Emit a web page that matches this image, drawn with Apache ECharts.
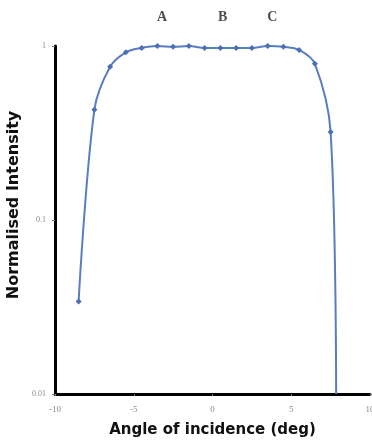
<!DOCTYPE html>
<html><head><meta charset="utf-8">
<script src="https://cdn.jsdelivr.net/npm/echarts@6/dist/echarts.min.js"></script>
<style>html,body{margin:0;padding:0;background:#fff}#c{width:372px;height:440px}</style>
</head><body><div id="c"></div>
<script>
const angles = [-8.5,-7.5,-6.5,-5.5,-4.5,-3.5,-2.5,-1.5,-0.5,0.5,1.5,2.5,3.5,4.5,5.5,6.5,7.5,7.85];
const intensity = [0.034,0.43,0.76,0.92,0.975,1.0,0.99,1.0,0.975,0.975,0.975,0.975,1.0,0.99,0.95,0.79,0.32,0.01];
const xTicks = [-10,-5,0,5,10];
const yTicks = [0.01,0.1,1];
const markLabels = [{t:'A',x:-3.2},{t:'B',x:0.65},{t:'C',x:3.8}];

const chart = echarts.init(document.getElementById('c'));
const data = angles.map((a,i)=>{
  const d = {value:[a,intensity[i]]};
  if (i===angles.length-1) d.symbol='none';
  return d;
});
chart.setOption({
  animation:false,
  grid:{left:55,right:2,top:46,bottom:46,outerBoundsMode:'none',containLabel:false},
  xAxis:{type:'value',min:-10,max:10,interval:5,
    axisLine:{onZero:false,lineStyle:{color:'#000',width:3}},
    axisTick:{show:true,length:2,lineStyle:{color:'#777'}},
    splitLine:{show:false},
    axisLabel:{color:'#888',fontSize:9,margin:11,fontFamily:'Liberation Serif',
      formatter:v=>xTicks.includes(v)?String(v):''},
    name:'Angle of incidence (deg)',nameLocation:'middle',nameGap:29,
    nameTextStyle:{color:'#111',fontSize:15,fontWeight:'bold',fontFamily:'DejaVu Sans'}
  },
  yAxis:{type:'log',min:0.01,max:1,logBase:10,
    axisLine:{show:true,onZero:false,lineStyle:{color:'#000',width:3}},
    axisTick:{show:true,length:3,lineStyle:{color:'#777'}},
    minorTick:{show:false},
    splitLine:{show:false},
    axisLabel:{color:'#888',fontSize:8,margin:9,fontFamily:'Liberation Serif',
      formatter:v=>{const r=yTicks.find(t=>Math.abs(t-v)/t<1e-6);return r===undefined?'':String(r);}}
  },
  graphic:[{type:'text',x:14,y:205,rotation:Math.PI/2,
    style:{text:'Normalised Intensity',fill:'#111',font:'bold 16px "DejaVu Sans"',
      align:'center',verticalAlign:'middle'}}],
  series:[{
    type:'line',data:data,smooth:0.35,
    symbol:'diamond',symbolSize:6,
    lineStyle:{color:'#5a7dbf',width:2},
    itemStyle:{color:'#4a6fb5'},
    clip:false
  },{
    type:'scatter',data:markLabels.map(m=>({value:[m.x,1],name:m.t})),
    symbolSize:0,
    label:{show:true,position:'top',distance:22,formatter:p=>p.name,
      color:'#222',fontSize:14,fontWeight:'bold',fontFamily:'Liberation Serif'}
  }]
});
</script></body></html>
